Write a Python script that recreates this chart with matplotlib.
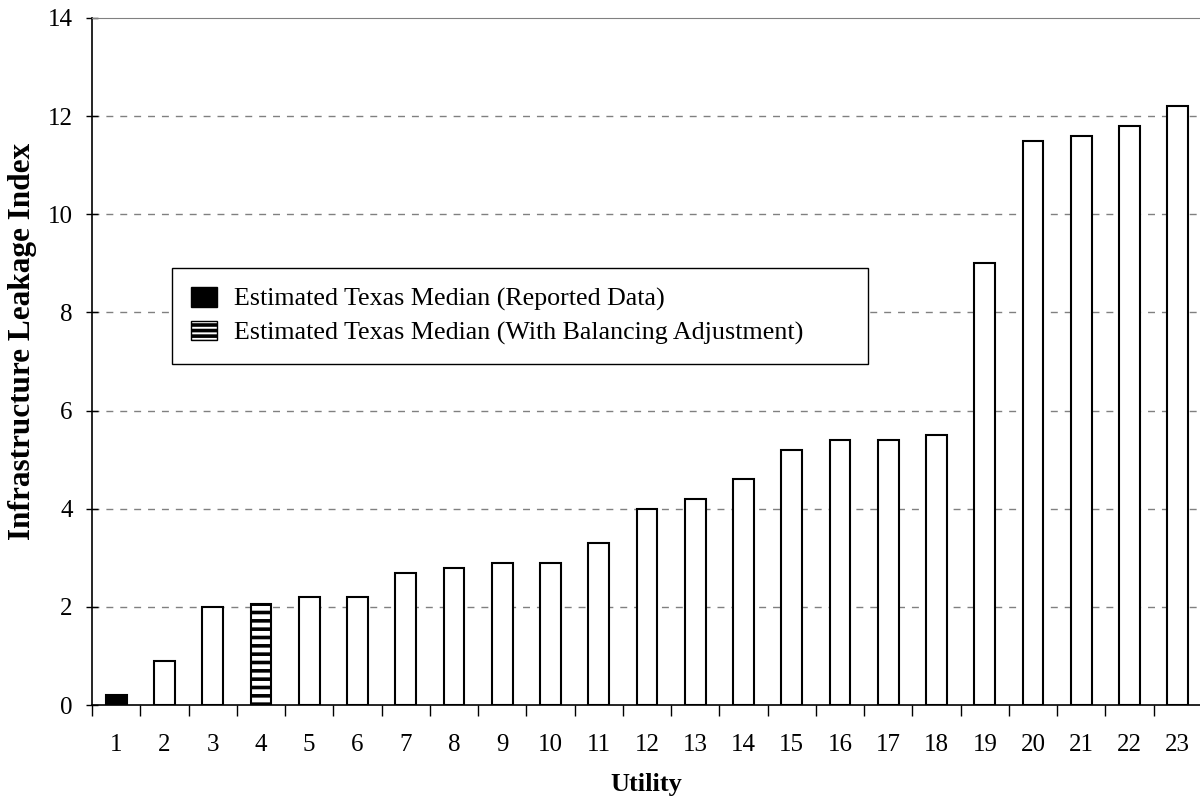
import matplotlib
matplotlib.use("Agg")
import matplotlib.pyplot as plt
from matplotlib.patches import Patch

utilities = [str(i) for i in range(1, 24)]
ili_values = [0.2, 0.9, 2.0, 2.05, 2.2, 2.2, 2.7, 2.8, 2.9, 2.9, 3.3, 4.0,
              4.2, 4.6, 5.2, 5.4, 5.4, 5.5, 9.0, 11.5, 11.6, 11.8, 12.2]
reported_idx = 0
balanced_idx = 3
legend_labels = ["Estimated Texas Median (Reported Data)",
                 "Estimated Texas Median (With Balancing Adjustment)"]
y_ticks = [0, 2, 4, 6, 8, 10, 12, 14]

plt.rcParams['font.family'] = ['Liberation Serif', 'DejaVu Serif']
plt.rcParams['hatch.linewidth'] = 2.6
plt.rcParams['hatch.color'] = 'black'

fig = plt.figure(figsize=(12, 8.02), dpi=100)
ax = fig.add_axes([92/1200, 97/802, 1110/1200, 687/802])

x = list(range(1, len(utilities) + 1))
bars = ax.bar(x, ili_values, width=0.43, facecolor='white', edgecolor='black',
              linewidth=1.5, zorder=3)
bars[reported_idx].set_facecolor('black')
bars[balanced_idx].set_hatch('--')

ax.set_xlim(0.5, len(utilities) + 0.5)
ax.set_ylim(0, 14)
ax.set_yticks(y_ticks)
ax.set_xticks(x)
ax.set_xticklabels(utilities)
ax.set_xticks([i + 0.5 for i in range(0, len(utilities) + 1)], minor=True)
ax.tick_params(axis='x', which='major', length=0, labelsize=18, pad=21)
ax.tick_params(axis='x', which='minor', length=8, width=1, direction='out')
ax.tick_params(axis='y', which='major', length=8, width=1, direction='inout',
               labelsize=18, pad=10)

for yv in y_ticks[1:-1]:
    ax.axhline(yv, color='#808080', linestyle=(0, (5, 5)), linewidth=1, zorder=1)

ax.spines['top'].set_color('#808080')
ax.spines['right'].set_visible(False)
ax.spines['left'].set_linewidth(1.2)
ax.spines['bottom'].set_linewidth(1.2)

fig.text(646/1200, 1 - 784/802, 'Utility', fontsize=19, fontweight='bold',
         ha='center', va='center')
fig.text(23/1200, 1 - 341/802, 'Infrastructure Leakage Index', fontsize=22.5,
         fontweight='bold', rotation=90, ha='center', va='center')

handles = [Patch(facecolor='black', edgecolor='black'),
           Patch(facecolor='white', edgecolor='black', hatch='---')]
leg = fig.legend(handles, legend_labels, loc='upper left',
                 bbox_to_anchor=(172/1200, 1 - 363/802, 696/1200, 95/802),
                 bbox_transform=fig.transFigure, mode='expand',
                 fontsize=18.7, frameon=True, fancybox=False,
                 edgecolor='black', framealpha=1, borderpad=0.75,
                 handlelength=1.0, handleheight=0.75, handletextpad=0.65,
                 labelspacing=0.35, borderaxespad=0)
leg.get_frame().set_linewidth(1)

fig.savefig('out.png', dpi=100)
